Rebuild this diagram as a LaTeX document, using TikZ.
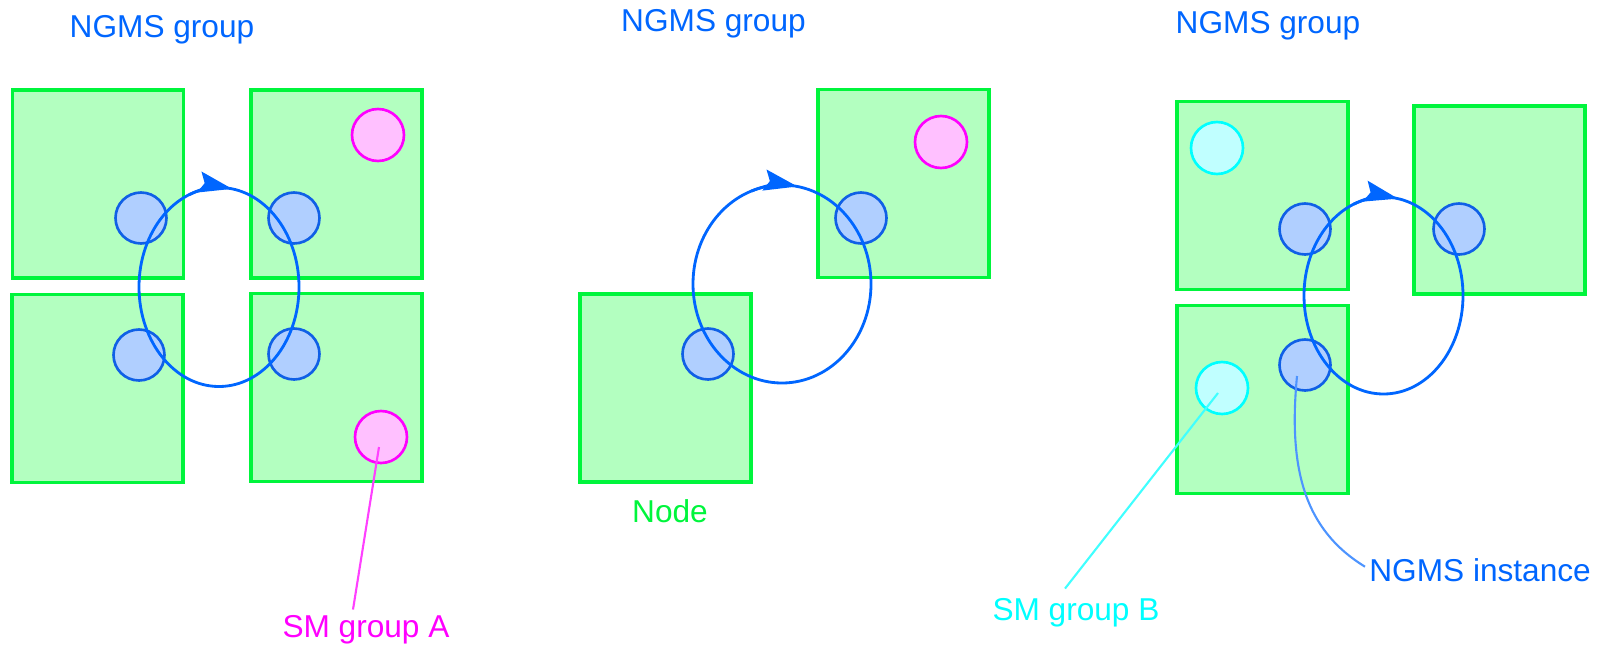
\documentclass[tikz,border=0pt]{standalone}
\usepackage{fontspec}
\setmainfont{Liberation Sans}
\usetikzlibrary{calc,arrows.meta,shapes.geometric}
\definecolor{boxfill}{RGB}{179,255,192}
\definecolor{boxline}{RGB}{0,245,60}
\definecolor{instfill}{RGB}{176,207,255}
\definecolor{instline}{RGB}{16,96,230}
\definecolor{ringblue}{RGB}{0,102,255}
\definecolor{leadblue}{RGB}{77,148,255}
\definecolor{smAfill}{RGB}{255,192,255}
\definecolor{smAline}{RGB}{255,0,255}
\definecolor{smBfill}{RGB}{192,255,255}
\definecolor{smBline}{RGB}{0,255,255}
\tikzset{
  hostbox/.style={rectangle, draw=boxline, fill=boxfill, line width=1.8pt,
    minimum width=3.42cm, minimum height=3.76cm, inner sep=0pt},
  inst/.style={circle, draw=instline, fill=instfill, line width=1.5pt,
    minimum size=1.02cm, inner sep=0pt},
  smA/.style={circle, draw=smAline, fill=smAfill, line width=1.5pt,
    minimum size=1.04cm, inner sep=0pt},
  smB/.style={circle, draw=smBline, fill=smBfill, line width=1.5pt,
    minimum size=1.04cm, inner sep=0pt},
  ring/.style={draw=ringblue, line width=1.6pt},
  ringtip/.style={ring, -{Stealth[length=19pt,width=12pt,inset=3pt]}},
  lbl/.style={anchor=base, inner sep=0pt}
}
\begin{document}
\begin{tikzpicture}[x=0.02cm, y=-0.02cm, font=\fontsize{18}{21}\selectfont]
\useasboundingbox (0,0) rectangle (1606,646);

% first group: four nodes
\node[lbl, ringblue] (title1) at (162,37) {NGMS group};
\node[hostbox] (h1a) at (98,184) {};
\node[hostbox] (h1b) at (336.5,184) {};
\node[hostbox] (h1c) at (97.5,388.5) {};
\node[hostbox] (h1d) at (336.5,387.5) {};
\node[smA] (smA1) at (378,135) {};
\node[smA] (smA2) at (381,437) {};
\node[inst] (i1a) at (141,218) {};
\node[inst] (i1b) at (294,218) {};
\node[inst] (i1c) at (139,355) {};
\node[inst] (i1d) at (294,354) {};
\draw[ring] (219,287) ellipse[x radius=80, y radius=99.5];
\draw[ringtip] (219,287) ++(-112:80 and 99.5) arc[start angle=-112, end angle=-80.5, x radius=80, y radius=99.5];

% second group: two nodes
\node[lbl, ringblue] (title2) at (713.5,31) {NGMS group};
\node[hostbox] (h2a) at (903.5,183.5) {};
\node[hostbox] (h2b) at (665.5,388) {};
\node[smA] (smA3) at (941,142) {};
\node[inst] (i2a) at (861,218) {};
\node[inst] (i2b) at (708,354) {};
\draw[ring] (782,284) ellipse[x radius=89, y radius=99];
\draw[ringtip] (782,284) ++(-110:89 and 99) arc[start angle=-110, end angle=-80, x radius=89, y radius=99];
\node[lbl, boxline] (nodelbl) at (670,522) {Node};

% third group: three nodes
\node[lbl, ringblue] (title3) at (1268,33) {NGMS group};
\node[hostbox] (h3a) at (1262.5,195.5) {};
\node[hostbox] (h3b) at (1262.5,399.5) {};
\node[hostbox] (h3c) at (1499.5,200) {};
\node[smB] (smB1) at (1217,148) {};
\node[smB] (smB2) at (1222,388) {};
\node[inst] (i3a) at (1305,229) {};
\node[inst] (i3b) at (1459,229) {};
\node[inst] (i3c) at (1305,365) {};
\draw[ring] (1383.5,295.5) ellipse[x radius=79.5, y radius=98.5];
\draw[ringtip] (1383.5,295.5) ++(-112:79.5 and 98.5) arc[start angle=-112, end angle=-79.5, x radius=79.5, y radius=98.5];

% labels and leaders
\node[lbl, smAline] (labA) at (366,637) {SM group A};
\node[lbl, smBline] (labB) at (1076,620) {SM group B};
\node[anchor=base west, inner sep=0pt, ringblue] (labI) at (1369,581) {NGMS instance};
\draw[draw=smAline!75!white, line width=1.2pt] ($(smA2)+(-2,10)$) -- ($(labA.north)+(-13,-5)$);
\draw[draw=smBline!75!white, line width=1.2pt] ($(smB2)+(-4,5)$) -- ($(labB.north)+(-11,-9)$);
\draw[draw=leadblue, line width=1.2pt] ($(i3c)+(-8,11)$) .. controls (1288,470) and (1305,530) .. ($(labI.west)+(-4,-3)$);
\end{tikzpicture}
\end{document}
